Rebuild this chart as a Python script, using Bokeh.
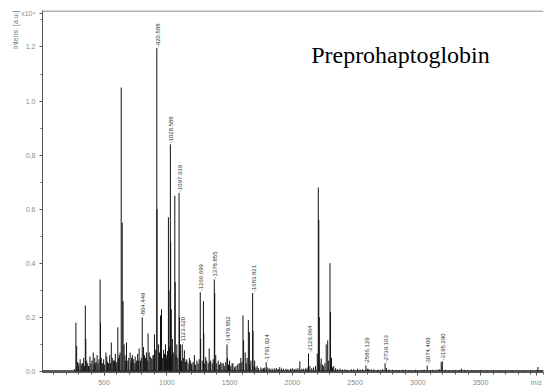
import math
from bokeh.plotting import figure
from bokeh.models import (Range1d, FixedTicker, PrintfTickFormatter, Label, Span,
                          ColumnDataSource, Title)
from bokeh.core.properties import value
from bokeh.embed import file_html
from bokeh.resources import INLINE

# ---- data (intensity in units of 10^4 a.u.) ----
peak_mz = [276, 282, 300, 330, 351, 355, 380, 414, 430, 469, 472, 490, 515, 535, 558, 575,
           595, 610, 622, 637, 645, 652, 660, 679, 690, 708, 720, 740, 760, 780, 790,
           804.449, 815, 830, 851, 860, 875, 890, 902, 920.588, 922, 935, 950, 958, 975,
           990, 1000, 1013, 1018, 1028.588, 1031, 1036, 1045, 1064, 1067, 1080,
           1097.639, 1101, 1110, 1123.620, 1140, 1160, 1180, 1200, 1220, 1240,
           1266.699, 1270, 1292, 1295, 1310, 1330, 1338, 1350, 1378.855, 1382, 1390,
           1410, 1430, 1450, 1479.852, 1483, 1500, 1527, 1550, 1575, 1590, 1607, 1612,
           1625, 1640, 1650, 1658, 1670, 1683.821, 1687, 1700, 1720, 1750, 1770,
           1791.924, 1800, 1830, 1860, 1900, 1950, 2000, 2030, 2060, 2090, 2129.064,
           2140, 2170, 2199, 2207, 2211, 2215, 2230, 2250, 2270, 2282, 2300, 2304, 2312,
           2330, 2380, 2420, 2470, 2520, 2560, 2586.129, 2600, 2650, 2700, 2739.103,
           2750, 2800, 2850, 2900, 2950, 3000, 3050, 3074.409, 3100, 3150, 3186,
           3195.290, 3250, 3300, 3347, 3400, 3450, 3500, 3600, 3700, 3800, 3900, 3957, 4000]
peak_int = [0.18, 0.094, 0.03, 0.03, 0.244, 0.12, 0.02, 0.07, 0.03, 0.34, 0.18, 0.03, 0.07, 0.03, 0.107, 0.04,
            0.03, 0.163, 0.06, 1.05, 0.55, 0.26, 0.10, 0.107, 0.04, 0.07, 0.05, 0.03, 0.04, 0.085, 0.04,
            0.20, 0.09, 0.05, 0.14, 0.07, 0.05, 0.06, 0.137, 1.196, 0.60, 0.10, 0.207, 0.23, 0.08,
            0.10, 0.06, 0.57, 0.30, 0.84, 0.48, 0.23, 0.12, 0.65, 0.33, 0.10,
            0.66, 0.20, 0.10, 0.10, 0.078, 0.04, 0.05, 0.03, 0.06, 0.04,
            0.293, 0.12, 0.26, 0.14, 0.053, 0.03, 0.085, 0.04, 0.34, 0.29, 0.06,
            0.04, 0.034, 0.03, 0.10, 0.05, 0.04, 0.03, 0.02, 0.03, 0.05, 0.207, 0.115,
            0.07, 0.05, 0.19, 0.145, 0.04, 0.29, 0.15, 0.04, 0.02, 0.015, 0.012,
            0.034, 0.015, 0.01, 0.012, 0.016, 0.01, 0.012, 0.01, 0.037, 0.01, 0.066,
            0.02, 0.015, 0.066, 0.68, 0.56, 0.20, 0.048, 0.02, 0.10, 0.115, 0.40, 0.22, 0.05,
            0.02, 0.01, 0.008, 0.008, 0.01, 0.008, 0.022, 0.01, 0.008, 0.006, 0.03,
            0.012, 0.006, 0.005, 0.006, 0.004, 0.005, 0.006, 0.022, 0.005, 0.006, 0.035,
            0.037, 0.004, 0.004, 0.01, 0.004, 0.003, 0.004, 0.003, 0.004, 0.003, 0.004, 0.016, 0.004]

noise_mz = [265, 290, 296, 310, 318, 325, 338, 344, 362, 370,
            376, 388, 396, 404, 420, 426, 437, 445, 452, 460,
            478, 484, 497, 505, 522, 528, 545, 551, 566, 583,
            590, 602, 616, 628, 667, 673, 697, 715, 726, 733,
            748, 755, 768, 774, 797, 822, 838, 845, 868, 882,
            896, 912, 942, 965, 982, 996, 1006, 1022, 1040, 1052,
            1074, 1088, 1106, 1117, 1132, 1148, 1155, 1170, 1188, 1195,
            1210, 1230, 1250, 1258, 1282, 1302, 1318, 1345, 1362, 1370,
            1398, 1420, 1440, 1462, 1470, 1492, 1510, 1520, 1540, 1562,
            1583, 1598, 1633, 1663, 1695, 1710, 1730, 1760, 1780, 1815,
            1845, 1875, 1888, 1915, 1930, 1965, 1985, 2015, 2045, 2075,
            2105, 2118, 2155, 2185, 2220, 2240, 2260, 2290, 2320, 2345,
            2360, 2400, 2440, 2490, 2540, 2610, 2630, 2680, 2720, 2770,
            2830, 2880, 2930, 2980, 3030, 3120, 3170, 3220, 3280, 3330,
            3370, 3430, 3480, 3550, 3650, 3750, 3850, 3950, 3980]
noise_int = [0.008, 0.035, 0.02, 0.045, 0.025, 0.03, 0.05, 0.02, 0.04, 0.03,
             0.02, 0.055, 0.03, 0.04, 0.025, 0.05, 0.035, 0.06, 0.03, 0.045,
             0.05, 0.03, 0.045, 0.025, 0.055, 0.035, 0.06, 0.03, 0.05, 0.04,
             0.065, 0.035, 0.05, 0.07, 0.06, 0.04, 0.05, 0.035, 0.06, 0.045,
             0.055, 0.03, 0.065, 0.04, 0.05, 0.06, 0.07, 0.04, 0.055, 0.045,
             0.06, 0.08, 0.07, 0.05, 0.065, 0.045, 0.075, 0.09, 0.06, 0.07,
             0.06, 0.05, 0.07, 0.04, 0.05, 0.035, 0.045, 0.03, 0.04, 0.025,
             0.035, 0.025, 0.03, 0.045, 0.04, 0.03, 0.04, 0.035, 0.03, 0.045,
             0.03, 0.025, 0.03, 0.02, 0.035, 0.025, 0.02, 0.03, 0.015, 0.025,
             0.03, 0.035, 0.03, 0.025, 0.02, 0.015, 0.012, 0.01, 0.014, 0.012,
             0.01, 0.012, 0.009, 0.011, 0.01, 0.008, 0.01, 0.009, 0.012, 0.01,
             0.011, 0.014, 0.012, 0.02, 0.03, 0.025, 0.03, 0.04, 0.015, 0.012,
             0.008, 0.007, 0.006, 0.008, 0.007, 0.009, 0.007, 0.006, 0.008, 0.007,
             0.005, 0.006, 0.005, 0.006, 0.005, 0.006, 0.008, 0.006, 0.005, 0.005,
             0.006, 0.004, 0.005, 0.004, 0.004, 0.005, 0.004, 0.006, 0.005]

label_mz = [804.449, 920.588, 1028.588, 1097.639, 1123.620, 1266.699, 1378.855,
            1479.852, 1683.821, 1791.924, 2129.064, 2586.129, 2739.103, 3074.409, 3195.290]

x_ticks = [500, 1000, 1500, 2000, 2500, 3000, 3500]
x_minor = [100, 200, 300, 400, 600, 700, 800, 900, 1100, 1200, 1300, 1400, 1600, 1700,
           1800, 1900, 2100, 2200, 2300, 2400, 2600, 2700, 2800, 2900, 3100, 3200, 3300,
           3400, 3600, 3700, 3800, 3900, 4000]
y_ticks = [0.0, 0.2, 0.4, 0.6, 0.8, 1.0, 1.2]
y_minor = [0.1, 0.3, 0.5, 0.7, 0.9, 1.1, 1.3]
y_unit_tick = 1.325
y_unit_text = "x10⁴"
y_title = "Intens. [a.u.]"
x_title = "m/z"
x_title_tick = 3945
chart_text = "Preprohaptoglobin"

X0, X1 = 10, 4001
Y0, Y1 = -0.004, 1.335

p = figure(width=546, height=389, output_backend="svg", toolbar_location=None,
           x_range=Range1d(X0, X1), y_range=Range1d(Y0, Y1),
           min_border_left=42, min_border_right=3, min_border_top=10, min_border_bottom=17)
p.xgrid.visible = False
p.ygrid.visible = False
p.outline_line_color = None
p.background_fill_color = "white"
p.border_fill_color = "white"

for ax in (p.xaxis[0], p.yaxis[0]):
    ax.axis_line_color = "#555555"
    ax.major_tick_line_color = "#555555"
    ax.minor_tick_line_color = "#555555"
    ax.major_tick_in = 0
    ax.minor_tick_in = 0
    ax.major_tick_out = 3
    ax.minor_tick_out = 2
    ax.major_label_text_font = "Liberation Sans"
    ax.major_label_text_font_size = "7px"
    ax.major_label_text_color = "#888888"

p.yaxis.ticker = FixedTicker(ticks=y_ticks + [y_unit_tick], minor_ticks=y_minor)
p.yaxis.formatter = PrintfTickFormatter(format="%.1f")
p.yaxis.major_label_overrides = {y_unit_tick: y_unit_text}
p.yaxis.major_label_standoff = 4

xa = p.xaxis[0]
xa.major_label_standoff = 3
xa.ticker = FixedTicker(ticks=x_ticks + [x_title_tick], minor_ticks=x_minor)
xa.major_label_overrides = {x_title_tick: x_title}

p.add_layout(Title(text=y_title, align="right", text_font="Liberation Sans",
                   text_font_size="7px", text_font_style="normal",
                   text_color="#777777", standoff=0, offset=0), "left")

p.add_layout(Span(location=Y1 - 0.002, dimension="width", line_color="#999999", line_width=1.5))
p.add_layout(Span(location=0.002, dimension="width", line_color="#222222", line_width=1.5))

p.segment(x0=noise_mz, y0=[0] * len(noise_mz), x1=noise_mz, y1=noise_int,
          line_color="#111111", line_width=1)
p.segment(x0=peak_mz, y0=[0] * len(peak_mz), x1=peak_mz, y1=peak_int,
          line_color="#111111", line_width=1)

lookup = dict(zip(peak_mz, peak_int))
lab_src = ColumnDataSource(dict(x=label_mz, y=[lookup[m] for m in label_mz],
                                t=["-%.3f" % m for m in label_mz]))
p.text(x="x", y="y", text="t", source=lab_src, angle=math.pi / 2,
       text_align="left", text_baseline="middle", x_offset=1, y_offset=-1,
       text_font=value("Liberation Sans"), text_font_size="6px",
       text_color="#333333")

p.add_layout(Label(x=2150, y=1.169, text=chart_text,
                   text_font="Liberation Serif", text_font_size="24px",
                   text_color="black", text_baseline="alphabetic", text_align="left"))

open("out.html", "w").write(file_html(p, INLINE))
